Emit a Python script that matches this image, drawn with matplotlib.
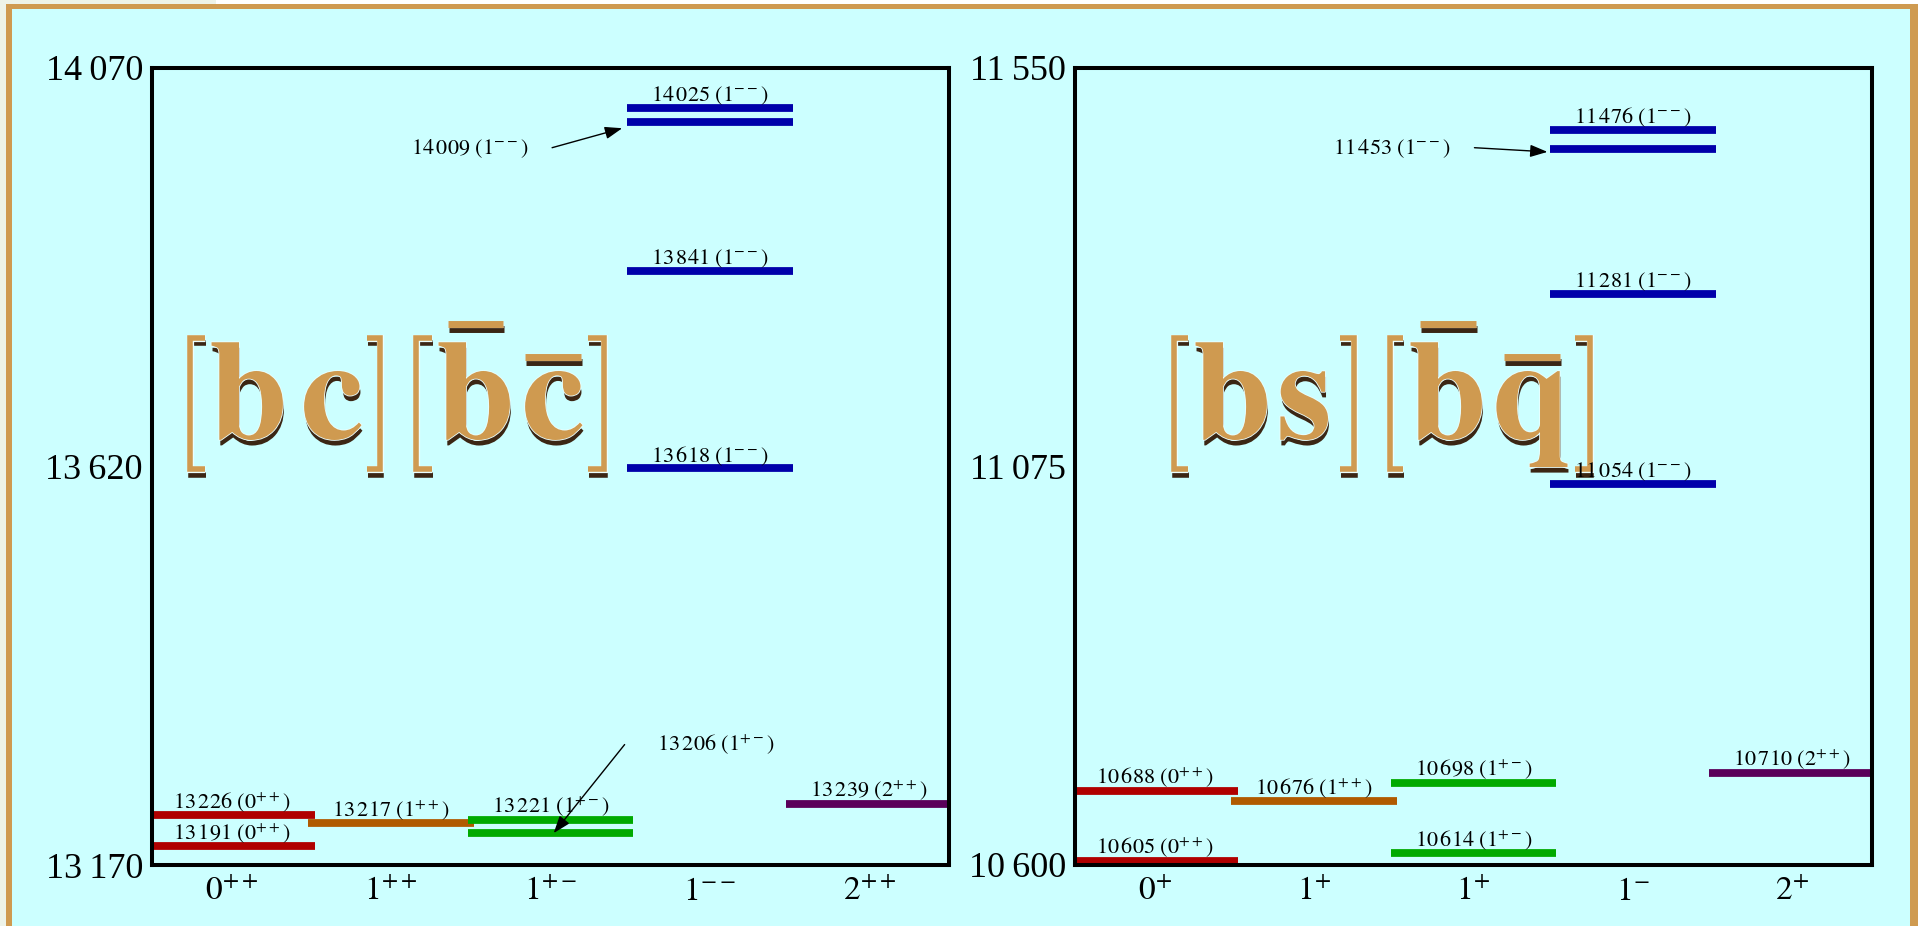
import matplotlib
matplotlib.use('Agg')
import matplotlib.pyplot as plt
import matplotlib.patheffects as pe
from matplotlib.transforms import Affine2D
from matplotlib.patches import Rectangle

# ---- data ----
bc_ticks = [r'$0^{++}$', r'$1^{++}$', r'$1^{+-}$', r'$1^{--}$', r'$2^{++}$']
bc_yticks = [13170, 13620, 14070]
bc_cat = [0, 0, 1, 2, 2, 3, 3, 3, 3, 4]
bc_mass = [13191, 13226, 13217, 13206, 13221, 13618, 13841, 14009, 14025, 13239]
bc_jpc = ['0^{++}', '0^{++}', '1^{++}', '1^{+-}', '1^{+-}',
          '1^{--}', '1^{--}', '1^{--}', '1^{--}', '2^{++}']

bs_ticks = [r'$0^{+}$', r'$1^{+}$', r'$1^{+}$', r'$1^{-}$', r'$2^{+}$']
bs_yticks = [10600, 11075, 11550]
bs_cat = [0, 0, 1, 2, 2, 3, 3, 3, 3, 4]
bs_mass = [10605, 10688, 10676, 10614, 10698, 11054, 11281, 11453, 11476, 10710]
bs_jpc = ['0^{++}', '0^{++}', '1^{++}', '1^{+-}', '1^{+-}',
          '1^{--}', '1^{--}', '1^{--}', '1^{--}', '2^{++}']

level_colors = ['#b00000', '#b05a00', '#00aa00', '#0000aa', '#5a005a']

W, H = 1918, 926
CYAN = '#ccffff'
ORANGE = '#cf9a50'
DARK = '#3b2614'

plt.rcParams['font.family'] = ['Liberation Serif', 'DejaVu Serif']
plt.rcParams['mathtext.fontset'] = 'stix'

fig = plt.figure(figsize=(W / 100, H / 100), dpi=100, facecolor=CYAN)
# pixel coords measured from the top-left corner
pxT = Affine2D().scale(1 / W, -1 / H).translate(0, 1) + fig.transFigure

# outer frame
for x, y, w, h, c in [(216, 0, W - 216, 4, 'white'), (0, 0, 216, 4, '#eef3e8'),
                      (0, 0, 6, H, '#eef3e8'), (6, 4, W - 6, 5, ORANGE),
                      (6, 4, 6, H, ORANGE), (1910, 4, 8, H, ORANGE)]:
    fig.add_artist(Rectangle((x, y + h), w, -h, transform=pxT, color=c, lw=0))


def tick_num(v):
    s = str(v)
    return s[:-3] + '\u2009' + s[-3:]


def level_label(m, j):
    s = str(m)
    return r'$' + s[:-3] + r'\,' + s[-3:] + r'\ (' + j + ')$'


text_fx = [pe.SimplePatchShadow(offset=(0.7, -4), shadow_rgbFace=DARK, alpha=1),
           pe.Stroke(linewidth=1.2, foreground='#eaffff'), pe.Normal()]
line_fx = [pe.SimpleLineShadow(offset=(0.7, -4), shadow_color=DARK, alpha=1),
           pe.Stroke(linewidth=5.2, foreground='#eaffff'), pe.Normal()]


def watermark(ax, letters, bars, brackets):
    for ch, xc in letters:
        ax.text(xc, 438, ch, transform=pxT, ha='center', va='baseline',
                fontsize=102, fontfamily='STIXGeneral', fontweight='bold',
                color=ORANGE, zorder=1.5, clip_on=False, path_effects=text_fx)
    for x0, x1, yc in bars:
        ax.plot([x0, x1], [yc, yc], transform=pxT, color=ORANGE, lw=5,
                solid_capstyle='butt', zorder=1.5, clip_on=False, path_effects=line_fx)
    t = 5.5
    y0, y1 = 335, 472
    for x0, x1, side in brackets:
        if side == 'l':
            xs = [x1, x0 + t / 2, x0 + t / 2, x1]
        else:
            xs = [x0, x1 - t / 2, x1 - t / 2, x0]
        ys = [y0 + t / 2, y0 + t / 2, y1 - t / 2, y1 - t / 2]
        ax.plot(xs, ys, transform=pxT, color=ORANGE, lw=4, solid_capstyle='butt',
                solid_joinstyle='miter', zorder=1.5, clip_on=False, path_effects=line_fx)


def draw_panel(ax, cats, masses, jpcs, ticks, yticks, arrowed):
    ax.set_facecolor('none')
    for c, m, j in zip(cats, masses, jpcs):
        ax.hlines(m, c - 0.52, c + 0.52, color=level_colors[c], lw=5.6, zorder=2)
        if m in arrowed:
            (tx, ty, ha), start, tip = arrowed[m]
            ax.text(tx, ty, level_label(m, j), ha=ha, va='center', fontsize=16, zorder=3)
            ax.annotate('', xy=tip, xytext=start, zorder=3,
                        arrowprops=dict(arrowstyle='-|>,head_length=0.7,head_width=0.25',
                                        mutation_scale=15, color='black', lw=1,
                                        shrinkA=0, shrinkB=0))
        else:
            ax.annotate(level_label(m, j), xy=(c, m), xytext=(0, 4.7),
                        textcoords='offset points', ha='center', va='baseline',
                        fontsize=16, zorder=3)
    ax.set_xlim(-0.5, 4.5)
    ax.set_ylim(yticks[0], yticks[-1])
    ax.set_xticks(range(5))
    ax.set_xticklabels(ticks, fontsize=24)
    ax.set_yticks(yticks)
    ax.set_yticklabels([tick_num(v) for v in yticks], fontsize=26)
    ax.tick_params(axis='x', length=0, pad=8)
    ax.tick_params(axis='y', length=0, pad=6.5)
    for sp in ax.spines.values():
        sp.set_linewidth(2.9)
        sp.set_color('black')


ax1 = fig.add_axes([152 / W, 1 - 865 / H, 797 / W, 797 / H])
ax2 = fig.add_axes([1075 / W, 1 - 865 / H, 797 / W, 797 / H])

draw_panel(ax1, bc_cat, bc_mass, bc_jpc, bc_ticks, bc_yticks,
           {14009: ((1.86, 13979, 'right'), (2.01, 13980), (2.45, 14002)),
            13206: ((2.665, 13305, 'left'), (2.465, 13306), (2.02, 13206))})
draw_panel(ax2, bs_cat, bs_mass, bs_jpc, bs_ticks, bs_yticks,
           {11453: ((1.856, 11454, 'right'), (2.006, 11455), (2.464, 11450))})

watermark(ax1, [('b', 248.5), ('c', 332), ('b', 475.5), ('c', 553)],
          [(448, 503, 323.5), (525, 581, 356.5)],
          [(187, 205, 'l'), (367, 383, 'r'), (413, 432, 'l'), (588, 607, 'r')])
watermark(ax2, [('b', 1232.5), ('s', 1304.5), ('b', 1447.5), ('q', 1531)],
          [(1420, 1476, 323.5), (1504, 1560, 356.5)],
          [(1171, 1188, 'l'), (1340, 1357, 'r'), (1387, 1403, 'l'), (1575, 1593, 'r')])

fig.savefig('out.png', dpi=100, facecolor=CYAN)
